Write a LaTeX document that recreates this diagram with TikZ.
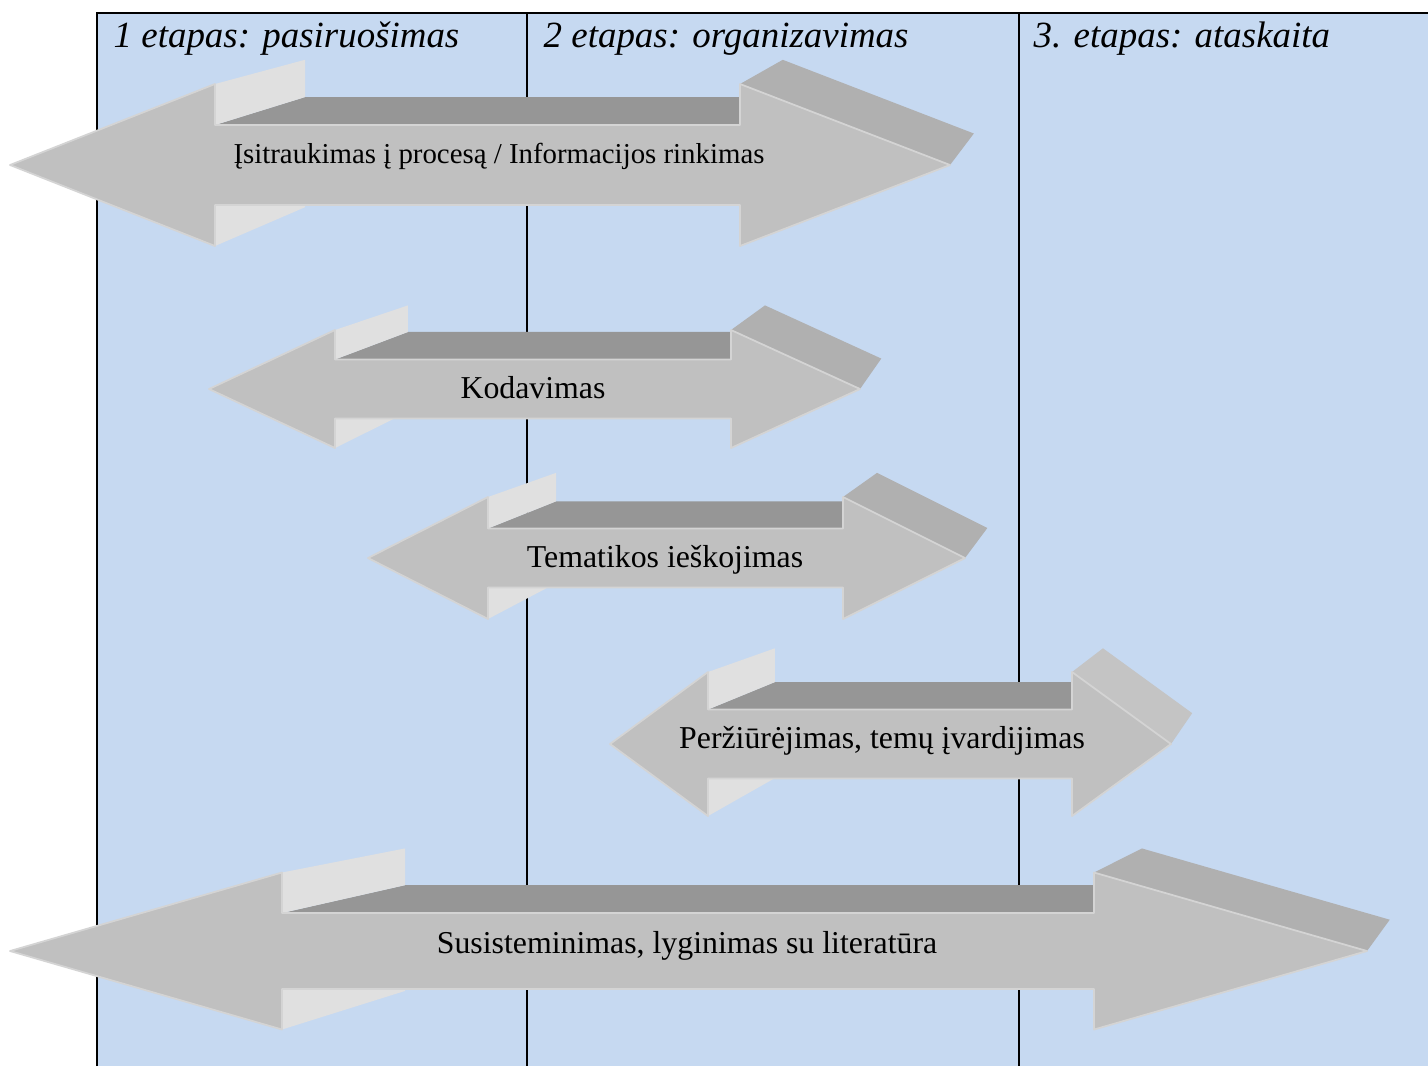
\documentclass[tikz,border=0pt]{standalone}
\usepackage{fontspec}
\setmainfont{Liberation Serif}
\usetikzlibrary{calc}

\definecolor{bgblue}{HTML}{C6D9F1}
\definecolor{frontgray}{HTML}{C0C0C0}
\definecolor{shafttop}{HTML}{969696}
\definecolor{backlight}{HTML}{E0E0E0}
\definecolor{headdark}{HTML}{B0B0B0}
\definecolor{headpale}{HTML}{C4C4C4}
\definecolor{edgelight}{HTML}{D4D4D4}

\tikzset{
  frontface/.style={fill=frontgray,draw=edgelight,line width=0.5pt,line join=round},
  topface/.style={fill=shafttop},
  sideface/.style={fill=backlight},
  headface/.style={fill=headdark},
  etap/.style={font=\fontsize{10.5}{12}\selectfont\itshape,anchor=base west,inner sep=0pt},
  lbl/.style={font=\fontsize{9.05}{11}\selectfont,anchor=base,inner sep=0pt}
}

% #1 left tip x, #2 left neck x, #3 right neck x, #4 right tip x,
% #5 middle y, #6 half shaft, #7 half head, #8 depth, #9 vanishing point
\newcommand{\threearrow}[9]{%
  \coordinate (v) at (#9);
  \coordinate (lt) at (#1,#5);
  \coordinate (lht) at (#2,#5-#7);
  \coordinate (lst) at (#2,#5-#6);
  \coordinate (rst) at (#3,#5-#6);
  \coordinate (rht) at (#3,#5-#7);
  \coordinate (rt) at (#4,#5);
  \coordinate (rhb) at (#3,#5+#7);
  \coordinate (rsb) at (#3,#5+#6);
  \coordinate (lsb) at (#2,#5+#6);
  \coordinate (lhb) at (#2,#5+#7);
  \fill[topface] (lst) -- ($(lst)!#8!(v)$) -- ($(rst)!#8!(v)$) -- (rst) -- cycle;
  \fill[sideface] (lht) -- (lst) -- ($(lst)!#8!(v)$) -- ($(lht)!#8!(v)$) -- cycle;
  \fill[sideface] (lsb) -- (lhb) -- ($(lhb)!#8!(v)$) -- ($(lsb)!#8!(v)$) -- cycle;
  \fill[headface] (rht) -- (rt) -- ($(rt)!#8!(v)$) -- ($(rht)!#8!(v)$) -- cycle;
  \filldraw[frontface] (lt) -- (lht) -- (lst) -- (rst) -- (rht) -- (rt)
    -- (rhb) -- (rsb) -- (lsb) -- (lhb) -- cycle;
}

\begin{document}
\begin{tikzpicture}[x=0.01cm,y=-0.01cm]
\useasboundingbox (0,0) rectangle (1428,1066);

% table
\fill[bgblue] (97,13) rectangle (1428,1066);
\draw[line width=0.6pt] (97,1066) -- (97,13) -- (1428,13);
\draw[line width=0.6pt] (527,13) -- (527,1066);
\draw[line width=0.6pt] (1019,13) -- (1019,1066);

\node[etap] (etap1) at (113,47) {1 etapas: pasiruošimas};
\node[etap] (etap2) at (543,47) {2 etapas: organizavimas};
\node[etap] (etap3) at (1033,47) {3. etapas: ataskaita};

% arrows
\threearrow{10}{215}{740}{950}{165}{40}{81}{0.09}{1215,-185}
\node[lbl,font=\fontsize{8.2}{10}\selectfont] (info) at (499,163) {Įsitraukimas į procesą / Informacijos rinkimas};

\threearrow{209}{335}{731}{860}{389}{29.5}{59}{0.0985}{1076,80}
\node[lbl] (kod) at (533,398) {Kodavimas};

\threearrow{368}{488}{843}{965}{558}{29.5}{61}{0.0958}{1198,245}
\node[lbl] (tema) at (665,567) {Tematikos ieškojimas};

\begin{scope}[headface/.style={fill=headpale}]
\threearrow{610}{708}{1072}{1171}{744}{34.5}{72}{0.0989}{1385,432}
\end{scope}
\node[lbl] (perz) at (882,748) {Peržiūrėjimas, temų įvardijimas};

\threearrow{10}{282}{1094}{1367}{951}{38}{78.5}{0.0924}{1613,612}
\node[lbl] (sist) at (687,953) {Susisteminimas, lyginimas su literatūra};
\end{tikzpicture}
\end{document}
